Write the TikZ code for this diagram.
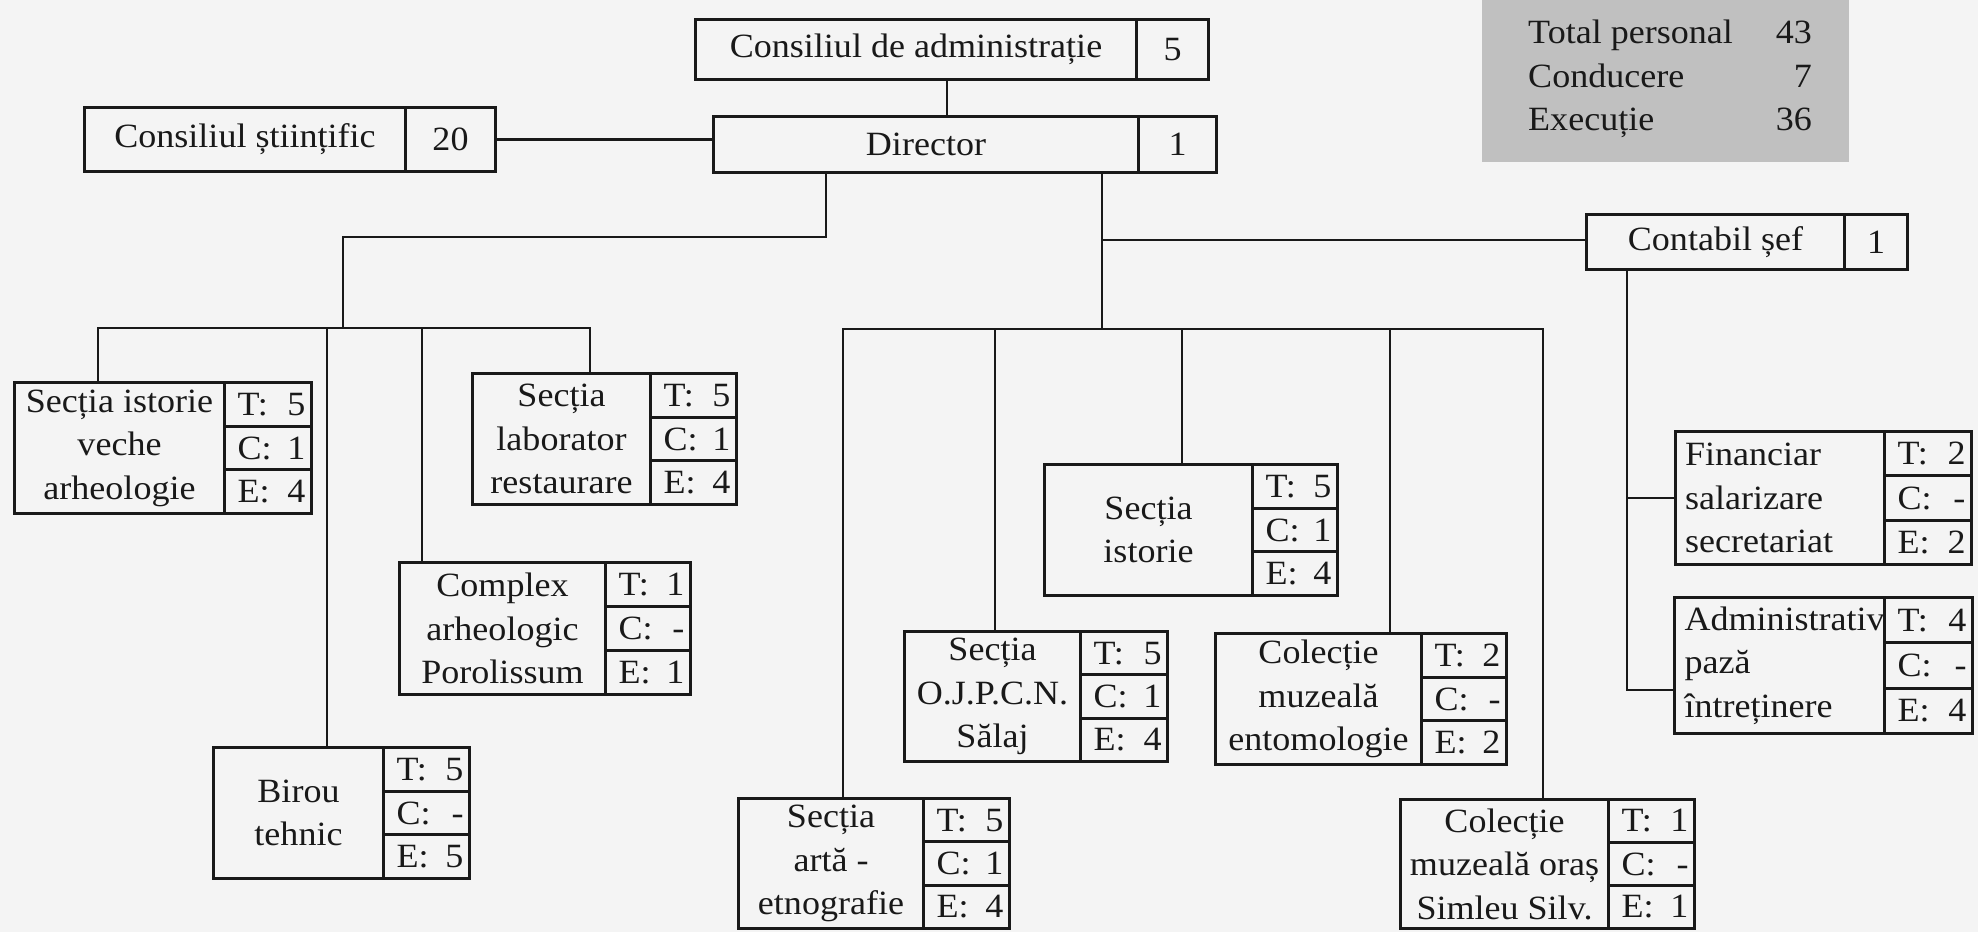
\documentclass[tikz,border=0pt]{standalone}
\usepackage{fontspec}
\setmainfont[FakeStretch=1.06]{Liberation Serif}
\usetikzlibrary{calc}
\definecolor{bg}{RGB}{244,244,244}
\definecolor{panel}{RGB}{192,192,192}
\definecolor{ink}{RGB}{25,25,25}
\tikzset{
  unit/.style={draw=ink, line width=3pt, inner sep=0pt, align=center, text=ink, font=\fontsize{34}{43.5}\selectfont},
  cell/.style={draw=ink, line width=3pt, inner sep=0pt, text=ink, font=\fontsize{34}{43.5}\selectfont},
  link/.style={draw=ink, line width=2.5pt},
  stat/.style={inner sep=0pt, text=ink, font=\fontsize{34}{43.5}\selectfont},
}
% name, x1, xdiv, x2, ytop, ybot, text, value
\newcommand{\pairbox}[8]{%
  \pgfmathsetmacro\pbw{#3-#2}\pgfmathsetmacro\pbv{#4-#3}\pgfmathsetmacro\pbh{#6-#5}%
  \node[unit, anchor=north west, minimum width=\pbw pt, minimum height=\pbh pt] (#1) at (#2,#5) {#7};
  \node[unit, anchor=north west, minimum width=\pbv pt, minimum height=\pbh pt] (#1-n) at (#3,#5) {#8};
}
% [style], name, x1, xdiv, x2, ytop, ybot, text, rows
\newcommand{\unitbox}[9][]{%
  \pgfmathsetmacro\ubw{#4-#3}\pgfmathsetmacro\ucw{#5-#4}\pgfmathsetmacro\ubh{#7-#6}\pgfmathsetmacro\uch{(#7-#6)/3}%
  \node[unit, #1, anchor=north west, minimum width=\ubw pt, minimum height=\ubh pt] (#2) at (#3,#6) {#8};
  \foreach \lab/\val [count=\i] in {#9} {
    \pgfmathsetmacro\yy{#6+(\i-1)*\uch}
    \node[cell, anchor=north west, minimum width=\ucw pt, minimum height=\uch pt] (#2-\i) at (#4,\yy)
      {\hspace{7pt}\makebox[\dimexpr\ucw pt-19pt\relax][l]{\lab:\hfill\val}\hspace{12pt}};
  }
}
\begin{document}
\begin{tikzpicture}[x=1pt,y=-1pt]
\fill[bg] (0,0) rectangle (1978,932);
\useasboundingbox (0,0) rectangle (1978,932);

% summary panel
\node[fill=panel, inner sep=0pt, anchor=north west, minimum width=367pt, minimum height=162pt] (stats) at (1482,0) {};
\node[stat, anchor=base west] (s1) at (1528,43) {Total personal};
\node[stat, anchor=base east] (v1) at (1812,43) {43};
\node[stat, anchor=base west] (s2) at (1528,87) {Conducere};
\node[stat, anchor=base east] (v2) at (1812,87) {7};
\node[stat, anchor=base west] (s3) at (1528,130) {Execuție};
\node[stat, anchor=base east] (v3) at (1812,130) {36};

% top boxes
\pairbox{cadm}{694}{1135}{1207}{18}{78}{Consiliul de administrație}{5}
\pairbox{dir}{712}{1137}{1215}{115}{171}{Director}{1}
\pairbox{cst}{83}{404}{494}{106}{170}{Consiliul științific}{20}
\pairbox{cont}{1585}{1843}{1906}{213}{268}{Contabil șef}{1}

% units
\unitbox{siv}{13}{223}{310}{381}{512}{Secția istorie\\veche\\arheologie}{T/5,C/1,E/4}
\unitbox{lab}{471}{649}{735}{372}{503}{Secția\\laborator\\restaurare}{T/5,C/1,E/4}
\unitbox{cplx}{398}{604}{689}{561}{693}{Complex\\arheologic\\Porolissum}{T/1,C/-,E/1}
\unitbox{bir}{212}{382}{468}{746}{877}{Birou\\tehnic}{T/5,C/-,E/5}
\unitbox{ist}{1043}{1251}{1336}{463}{594}{Secția\\istorie}{T/5,C/1,E/4}
\unitbox{ojp}{903}{1079}{1166}{630}{760}{Secția\\O.J.P.C.N.\\Sălaj}{T/5,C/1,E/4}
\unitbox{art}{737}{922}{1008}{797}{927}{Secția\\artă -\\etnografie}{T/5,C/1,E/4}
\unitbox{ent}{1214}{1420}{1505}{632}{763}{Colecție\\muzeală\\entomologie}{T/2,C/-,E/2}
\unitbox{sim}{1399}{1607}{1693}{798}{927}{Colecție\\muzeală oraș\\Simleu Silv.}{T/1,C/-,E/1}
\unitbox[align=left, text width=190pt]{fin}{1674}{1883}{1970}{430}{563}{Financiar\\salarizare\\secretariat}{T/2,C/-,E/2}
\unitbox[align=left, text width=190pt]{adm}{1673}{1883}{1971}{596}{732}{Administrativ\\pază\\întreținere}{T/4,C/-,E/4}

% connectors
\coordinate (c1) at (947,0);
\draw[link] (cadm.south -| c1) -- (dir.north -| c1);
\draw[link] (cst-n.east) -- (cst-n.east -| dir.west);

% left branch
\coordinate (ld) at (826,237);
\coordinate (lb) at (343,328);
\draw[link] (dir.south -| ld) -- (ld) -| (lb);
\coordinate (lbl) at (98,328);
\coordinate (lbr) at (590,328);
\draw[link] (siv.north -| lbl) |- (lbr) -- (lab.north -| lbr);
\coordinate (lb2) at (327,328);
\draw[link] (lb2) -- (lb2 |- bir.north);
\coordinate (lb3) at (422,328);
\draw[link] (lb3) -- (lb3 |- cplx.north);

% right branch
\coordinate (rd) at (1102,329);
\draw[link] (dir.south -| rd) -- (rd);
\coordinate (rbl) at (843,329);
\coordinate (rbr) at (1543,329);
\draw[link] (art.north -| rbl) |- (rbr) -- (sim.north -| rbr);
\coordinate (r2) at (995,329);
\draw[link] (r2) -- (r2 |- ojp.north);
\coordinate (r3) at (1182,329);
\draw[link] (r3) -- (r3 |- ist.north);
\coordinate (r4) at (1390,329);
\draw[link] (r4) -- (r4 |- ent.north);

% accountant
\coordinate (cj) at (1102,240);
\draw[link] (cj) -- (cj -| cont.west);
\coordinate (ab) at (1627,690);
\draw[link] (cont.south -| ab) -- (ab) -- (ab -| adm.west);
\draw[link] (fin.west -| ab) -- (fin.west);
\end{tikzpicture}
\end{document}
